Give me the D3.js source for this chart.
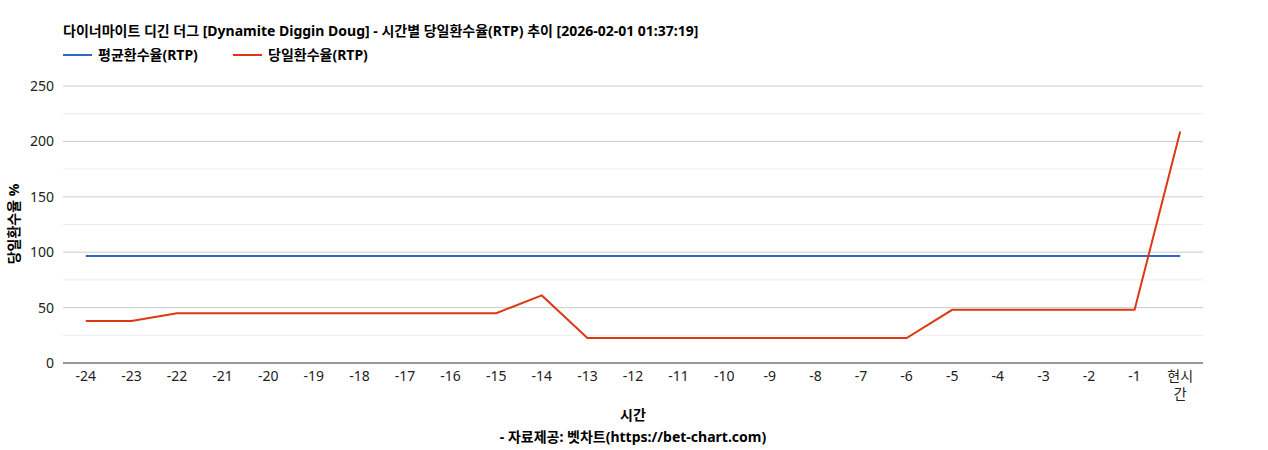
<!DOCTYPE html>
<html><head><meta charset="utf-8">
<script src="https://cdn.jsdelivr.net/npm/d3@7"></script>
<style>body{margin:0;background:#fff;font-family:"Noto Sans","Noto Sans CJK KR",sans-serif}</style>
</head><body><svg id="c" width="1268" height="450"></svg>
<script>
// chart data
var labels = ["-24","-23","-22","-21","-20","-19","-18","-17","-16","-15","-14","-13","-12","-11","-10","-9","-8","-7","-6","-5","-4","-3","-2","-1","현시간"];
var dailyRtp = [38,38,45,45,45,45,45,45,45,45,61,22.5,22.5,22.5,22.5,22.5,22.5,22.5,22.5,48,48,48,48,48,209];
var avgRtp = [96.5,96.5,96.5,96.5,96.5,96.5,96.5,96.5,96.5,96.5,96.5,96.5,96.5,96.5,96.5,96.5,96.5,96.5,96.5,96.5,96.5,96.5,96.5,96.5,96.5];
var yTicks = [0,50,100,150,200,250];

var svg = d3.select("#c");
var font = '"Noto Sans","Noto Sans CJK KR",sans-serif';
var x = d3.scaleBand().domain(labels).range([63,1203]);
var y = d3.scaleLinear().domain([0,250]).range([363,86]);

// grid lines, minor first
d3.range(25,250,50).forEach(function(v){
  svg.append("line").attr("x1",63).attr("x2",1203).attr("y1",y(v)).attr("y2",y(v)).attr("stroke","#ebebeb");
});
yTicks.forEach(function(v){
  svg.append("line").attr("x1",63).attr("x2",1203).attr("y1",y(v)).attr("y2",y(v)).attr("stroke",v==0?"#333":"#ccc");
});
svg.selectAll(".yt").data(yTicks).enter().append("text")
  .attr("x",54).attr("y",function(d){return y(d)+5}).attr("text-anchor","end")
  .attr("font-size",14).attr("font-family",font).attr("fill","#222").text(function(d){return d});

labels.forEach(function(l){
  var cx = x(l)+x.bandwidth()/2;
  if(l=="현시간"){
    svg.append("text").attr("x",cx).attr("y",381).attr("text-anchor","middle").attr("font-size",14).attr("font-family",font).attr("fill","#222").text("현시");
    svg.append("text").attr("x",cx).attr("y",399).attr("text-anchor","middle").attr("font-size",14).attr("font-family",font).attr("fill","#222").text("간");
  } else {
    svg.append("text").attr("x",cx).attr("y",381).attr("text-anchor","middle").attr("font-size",14).attr("font-family",font).attr("fill","#222").text(l);
  }
});

var line = d3.line().x(function(d,i){return x(labels[i])+x.bandwidth()/2}).y(function(d){return y(d)});
svg.append("path").attr("d",line(avgRtp)).attr("fill","none").attr("stroke","#3366cc").attr("stroke-width",2);
svg.append("path").attr("d",line(dailyRtp)).attr("fill","none").attr("stroke","#dc3912").attr("stroke-width",2);

// title & legend
svg.append("text").attr("x",63).attr("y",36).attr("font-size",14).attr("font-weight","bold").attr("font-family",font).attr("fill","#000")
  .text("다이너마이트 디긴 더그 [Dynamite Diggin Doug] - 시간별 당일환수율(RTP) 추이 [2026-02-01 01:37:19]");
svg.append("line").attr("x1",63).attr("x2",92).attr("y1",55).attr("y2",55).attr("stroke","#3366cc").attr("stroke-width",2);
svg.append("text").attr("x",98).attr("y",60).attr("font-size",14).attr("font-weight","bold").attr("font-family",font).text("평균환수율(RTP)");
svg.append("line").attr("x1",233).attr("x2",262).attr("y1",55).attr("y2",55).attr("stroke","#dc3912").attr("stroke-width",2);
svg.append("text").attr("x",268).attr("y",60).attr("font-size",14).attr("font-weight","bold").attr("font-family",font).text("당일환수율(RTP)");

// axis titles
svg.append("text").attr("x",633).attr("y",420).attr("text-anchor","middle").attr("font-size",14).attr("font-weight","bold").attr("font-family",font).text("시간");
svg.append("text").attr("x",633).attr("y",442).attr("text-anchor","middle").attr("font-size",14).attr("font-weight","bold").attr("font-family",font).text("- 자료제공: 벳차트(https://bet-chart.com)");
svg.append("text").attr("transform","translate(19,224) rotate(-90)").attr("text-anchor","middle").attr("font-size",14).attr("font-weight","bold").attr("font-family",font).text("당일환수율 %");
</script></body></html>
